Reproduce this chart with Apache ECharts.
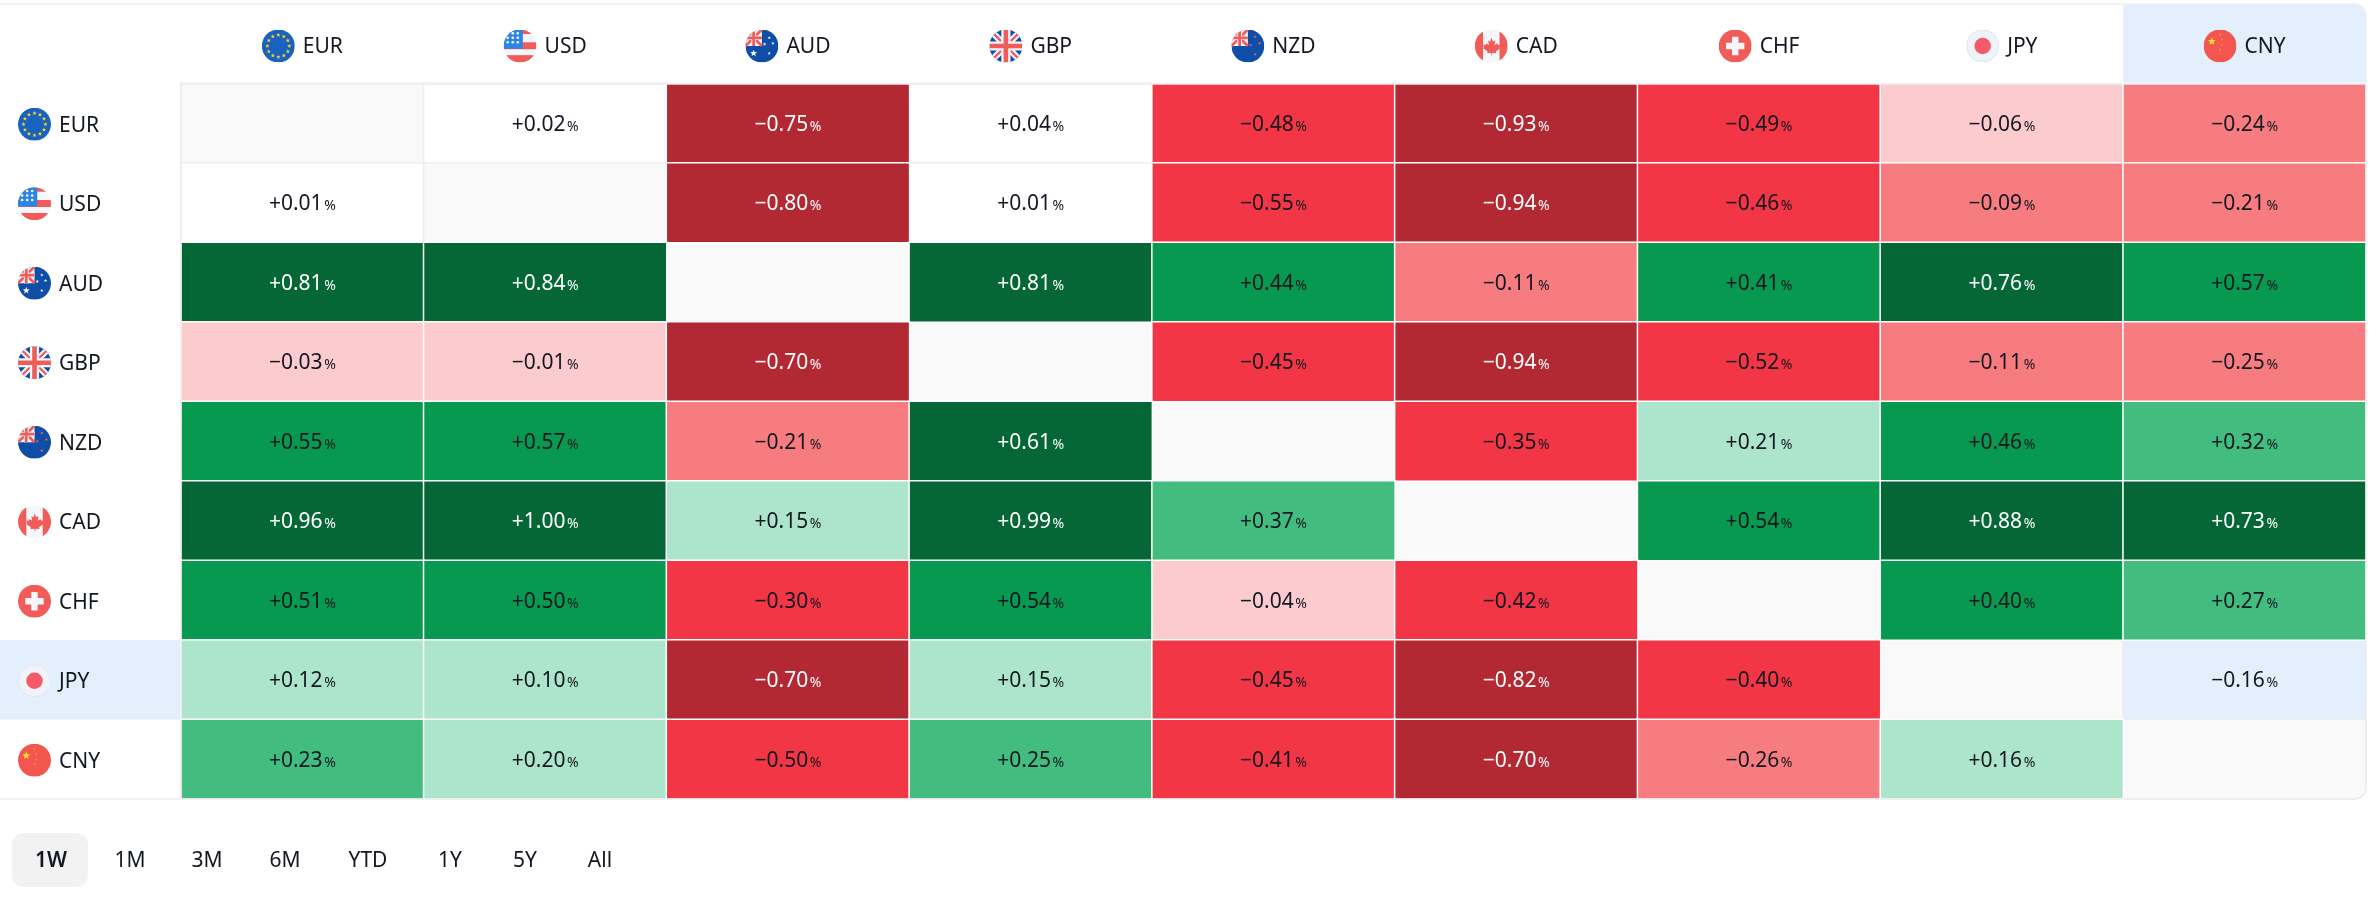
<!DOCTYPE html>
<html><head><meta charset="utf-8">
<style>html,body{margin:0;padding:0;background:#fff}#c{width:2376px;height:897px}</style>
<script src="https://cdn.jsdelivr.net/npm/echarts@6/dist/echarts.min.js"></script>
</head><body><div id="c"></div>
<script>
const currencies = ['EUR','USD','AUD','GBP','NZD','CAD','CHF','JPY','CNY'];
const rowEUR = [null, 0.02,-0.75, 0.04,-0.48,-0.93,-0.49,-0.06,-0.24];
const rowUSD = [0.01, null,-0.80, 0.01,-0.55,-0.94,-0.46,-0.09,-0.21];
const rowAUD = [0.81, 0.84, null, 0.81, 0.44,-0.11, 0.41, 0.76, 0.57];
const rowGBP = [-0.03,-0.01,-0.70, null,-0.45,-0.94,-0.52,-0.11,-0.25];
const rowNZD = [0.55, 0.57,-0.21, 0.61, null,-0.35, 0.21, 0.46, 0.32];
const rowCAD = [0.96, 1.00, 0.15, 0.99, 0.37, null, 0.54, 0.88, 0.73];
const rowCHF = [0.51, 0.50,-0.30, 0.54,-0.04,-0.42, null, 0.40, 0.27];
const rowJPY = [0.12, 0.10,-0.70, 0.15,-0.45,-0.82,-0.40, null,-0.16];
const rowCNY = [0.23, 0.20,-0.50, 0.25,-0.41,-0.70,-0.26, 0.16, null];
const matrix = [rowEUR,rowUSD,rowAUD,rowGBP,rowNZD,rowCAD,rowCHF,rowJPY,rowCNY];
const ranges = ['1W','1M','3M','6M','YTD','1Y','5Y','All'];
const activeRange = '1W';
const hoverCol = 'CNY', hoverRow = 'JPY';

const FONT = '"Noto Sans", sans-serif';
const INK = '#131722', LINE = '#eeeeee', HILITE = '#e3effd', EMPTY = '#f9f9f9';
const buckets = [
  {max:-0.6, color:'#b22833', text:'#ffffff'},
  {max:-0.28,color:'#f23645', text:INK},
  {max:-0.07,color:'#f77c80', text:INK},
  {max:0,    color:'#fccbcd', text:INK},
  {max:0.05, color:'#ffffff', text:INK, pale:true},
  {max:0.22, color:'#ace5cb', text:INK},
  {max:0.38, color:'#42bd7f', text:INK},
  {max:0.6,  color:'#089950', text:INK},
  {max:Infinity,color:'#056636',text:'#ffffff'}
];
const bucket = v => buckets.find(b => v <= b.max);

/* flags */
const clip = (inner, extra) => `<svg xmlns="http://www.w3.org/2000/svg" width="66" height="66" viewBox="0 0 36 36"><defs><clipPath id="k"><circle cx="18" cy="18" r="18"/></clipPath></defs><g clip-path="url(#k)">${inner}</g>${extra||''}</svg>`;
const R = '#f25c58';
const star = (cx,cy,r,c) => { let p=[]; for(let i=0;i<10;i++){const a=-Math.PI/2+i*Math.PI/5,q=i%2?r*0.42:r;p.push((cx+q*Math.cos(a)).toFixed(2)+','+(cy+q*Math.sin(a)).toFixed(2));} return `<polygon points="${p.join(' ')}" fill="${c}"/>`; };
const jack = `<rect x="0" y="0" width="18" height="18" fill="#f4f6fb"/><path d="M0 0L18 18M18 0L0 18" stroke="#f25c58" stroke-width="3"/><path d="M9 0V18M0 9H18" stroke="#f4f6fb" stroke-width="5"/><path d="M9 0V18M0 9H18" stroke="#f25c58" stroke-width="3"/>`;
const eurStars = Array.from({length:12},(_,i)=>star(18+12*Math.cos(i*Math.PI/6),18+12*Math.sin(i*Math.PI/6),2.5,'#ffce2e')).join('');
let usStars=''; [0,1,2].forEach(r=>[0,1,2].forEach(c=>{usStars+=`<circle cx="${4.5+c*5.5}" cy="${4+r*5}" r="1.4" fill="#fff"/>`;}));
const flags = {
  EUR: clip(`<rect width="36" height="36" fill="#1863bd"/>${eurStars}`),
  USD: clip(`<rect width="36" height="36" fill="#f4f6fb"/><rect width="36" height="5" fill="${R}"/><rect y="14" width="36" height="7.5" fill="${R}"/><rect y="28" width="36" height="8" fill="${R}"/><rect width="21" height="21" fill="#2a85e4"/>${usStars}`),
  AUD: clip(`<rect width="36" height="36" fill="#0f4ea6"/>${jack}${star(9,26,4,'#f4f6fb')}${star(26,9,2,'#f4f6fb')}${star(21,16,2,'#f4f6fb')}${star(30,15,2,'#f4f6fb')}${star(26,26,2,'#f4f6fb')}`),
  GBP: clip(`<rect width="36" height="36" fill="#0f4ea6"/><path d="M0 0L36 36M36 0L0 36" stroke="#f4f6fb" stroke-width="7"/><path d="M0 0L36 36M36 0L0 36" stroke="${R}" stroke-width="2.5"/><path d="M18 0V36M0 18H36" stroke="#f4f6fb" stroke-width="10"/><path d="M18 0V36M0 18H36" stroke="${R}" stroke-width="5"/>`),
  NZD: clip(`<rect width="36" height="36" fill="#0f4ea6"/>${jack}${star(26,8,2,R)}${star(21,17,2,R)}${star(31,15,2,R)}${star(26,27,2,R)}`),
  CAD: clip(`<rect width="36" height="36" fill="#f4f6fb"/><rect width="9" height="36" fill="${R}"/><rect x="27" width="9" height="36" fill="${R}"/><path d="M18 9l2 4 2.5-1-1 5 3-2 .8 2 2.7-.5-1 3 1 1-5 3.5.5 2-4.5-.5V28h-1v-2.500l-4.500.5.5-2-5-3.500 1-1-1-3 2.700.5.8-2 3 2-1-5 2.500 1z" fill="${R}"/>`),
  CHF: clip(`<rect width="36" height="36" fill="${R}"/><path d="M14.500 8h7v6.500H28v7h-6.500V28h-7v-6.500H8v-7h6.500z" fill="#f4f6fb"/>`),
  JPY: clip(`<rect width="36" height="36" fill="#f0f3fa"/><circle cx="18" cy="18" r="17.500" fill="none" stroke="#e0e3eb"/><circle cx="18" cy="18" r="9" fill="#f65a69"/>`),
  CNY: clip(`<rect width="36" height="36" fill="#f2564f"/>${star(9,13,4.5,'#ffe135')}${star(18,6,1.2,'#f7b32b')}${star(20,11,1.2,'#f7b32b')}${star(20,17,1.2,'#f7b32b')}${star(18,22,1.2,'#f7b32b')}`)
};
const rich = {
  g:{width:8,height:33},
  t:{fontFamily:FONT,fontSize:21,color:INK,lineHeight:33,verticalAlign:'middle',padding:[3,0,0,0]}
};
currencies.forEach(c=>{
  rich['f'+c]={width:33,height:33,backgroundColor:{image:'data:image/svg+xml;charset=utf-8,'+encodeURIComponent(flags[c])}};
});
const axisLabelFmt = v => `{f${v}|}{g|}{t|${v}}`;
const fmt = v => (v<0?'\u2212':'+') + Math.abs(v).toFixed(2);

/* cells: pale ones first so that the coloured cells' white borders stay on top */
const cells = [];
matrix.forEach((row,r)=>row.forEach((v,c)=>{
  const hover = currencies[r]===hoverRow && currencies[c]===hoverCol;
  const empty = v===null;
  const b = empty ? {color:EMPTY,text:INK,pale:true} : bucket(v);
  const pale = !!b.pale || hover;
  const last = r===matrix.length-1 && c===row.length-1;
  cells.push({
    pale,
    value:[c,r,empty?0:v],
    itemStyle:{color:hover?HILITE:b.color,borderColor:pale?LINE:'#ffffff',borderWidth:1.5,borderRadius:last?[0,0,12,0]:0},
    label:{show:!empty,offset:[0,1.5],formatter:empty?'':`{n|${fmt(v)}}{s| }{p|%}`,
      rich:{
        n:{fontFamily:FONT,fontSize:21,color:b.text},
        s:{fontFamily:FONT,fontSize:6,color:b.text},
        p:{fontFamily:FONT,fontSize:14,color:b.text,padding:[4,0,0,0]}
      }}
  });
}));
cells.sort((a,b)=>(b.pale?1:0)-(a.pale?1:0));

const HEAD = 79.5;
const chart = echarts.init(document.getElementById('c'),null,{renderer:'canvas'});
chart.setOption({
  animation:false,
  backgroundColor:'#ffffff',
  textStyle:{fontFamily:FONT},
  tooltip:{show:false},
  grid:{left:181,top:83.5,width:2185,height:715.5},
  xAxis:{type:'category',data:currencies,position:'top',z:3,
    axisLine:{lineStyle:{color:LINE,width:1.5}},
    axisTick:{length:HEAD,lineStyle:{color:LINE,width:1.5}},
    axisLabel:{margin:21,formatter:axisLabelFmt,rich,interval:0},
    splitLine:{show:false}},
  yAxis:{type:'category',data:currencies,inverse:true,z:3,
    axisLine:{lineStyle:{color:LINE,width:1.5}},
    axisTick:{length:181,lineStyle:{color:LINE,width:1.5}},
    axisLabel:{margin:163,align:'left',padding:[2,0,0,0],formatter:axisLabelFmt,rich,interval:0},
    splitLine:{show:false}},
  series:[
    {type:'custom',z:1,silent:true,clip:false,
      data:[[currencies.indexOf(hoverCol),currencies.indexOf(hoverRow)]],
      encode:{x:0,y:1},
      renderItem(params,api){
        const cs=params.coordSys, p=api.coord([api.value(0),api.value(1)]), s=api.size([1,1]);
        return {type:'group',children:[
          {type:'rect',shape:{x:p[0]-s[0]/2,y:cs.y-HEAD,width:s[0],height:HEAD,r:[0,12,0,0]},style:{fill:HILITE}},
          {type:'rect',shape:{x:0,y:p[1]-s[1]/2,width:cs.x,height:s[1]},style:{fill:HILITE}}
        ]};
      }},
    {type:'heatmap',z:2,silent:true,data:cells,emphasis:{disabled:true},
      label:{show:true,fontFamily:FONT}},
    {type:'custom',z:5,silent:true,clip:false,data:[[0,0]],encode:{x:0,y:1},
      renderItem(params){
        const cs=params.coordSys;
        return {type:'rect',shape:{x:-10,y:cs.y-HEAD,width:cs.x+cs.width+10,height:cs.height+HEAD,r:[0,12,12,0]},
          style:{fill:'none',stroke:LINE,lineWidth:1.5}};
      }}
  ],
  graphic:[
    {type:'rect',left:12,top:833,shape:{width:76,height:54,r:12},style:{fill:'#f2f2f2'}},
    ...ranges.map((t,i)=>({type:'text',x:[51,130,207,285,368,450,525,600][i],y:861,
      style:{text:t,fontFamily:FONT,fontSize:21,fontWeight:t===activeRange?600:400,fill:INK,textAlign:'center',textVerticalAlign:'middle'}}))
  ]
});
</script></body></html>
